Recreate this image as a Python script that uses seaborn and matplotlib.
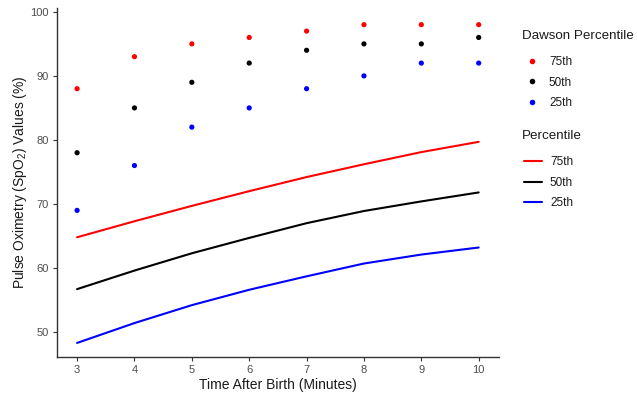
import matplotlib
matplotlib.use("Agg")
import matplotlib.pyplot as plt
from matplotlib.lines import Line2D
import numpy as np
import pandas as pd
import seaborn as sns

# Observed Dawson percentile points
minutes = [3, 4, 5, 6, 7, 8, 9, 10]
dawson_75 = [88, 93, 95, 96, 97, 98, 98, 98]
dawson_50 = [78, 85, 89, 92, 94, 95, 95, 96]
dawson_25 = [69, 76, 82, 85, 88, 90, 92, 92]

# Fitted percentile curves
curve_75 = [64.8, 67.3, 69.7, 72.0, 74.2, 76.2, 78.1, 79.7]
curve_50 = [56.7, 59.6, 62.3, 64.7, 67.0, 68.9, 70.4, 71.8]
curve_25 = [48.3, 51.4, 54.2, 56.6, 58.7, 60.7, 62.1, 63.2]

levels = ["75th", "50th", "25th"]
palette = {"75th": "#FF0000", "50th": "#000000", "25th": "#0000FF"}

dots = pd.DataFrame({
    "minute": minutes * 3,
    "spo2": dawson_75 + dawson_50 + dawson_25,
    "pct": [levels[0]] * 8 + [levels[1]] * 8 + [levels[2]] * 8,
})
curves = pd.DataFrame({
    "minute": minutes * 3,
    "spo2": curve_75 + curve_50 + curve_25,
    "pct": [levels[0]] * 8 + [levels[1]] * 8 + [levels[2]] * 8,
})

sns.set_theme(style="white")
plt.rcParams["font.family"] = ["Liberation Sans", "DejaVu Sans"]
plt.rcParams["mathtext.fontset"] = "custom"
plt.rcParams["mathtext.rm"] = "Liberation Sans"
plt.rcParams["mathtext.it"] = "Liberation Sans"

W, H = 637, 401
fig = plt.figure(figsize=(W / 100, H / 100), dpi=100)
ax = fig.add_axes([0.0895, 0.1097, 0.6935, 0.8703])

sns.lineplot(data=curves, x="minute", y="spo2", hue="pct", palette=palette,
             hue_order=levels, linewidth=1.5, legend=False, ax=ax)
sns.scatterplot(data=dots, x="minute", y="spo2", hue="pct", palette=palette,
                hue_order=levels, s=14, edgecolor="none", legend=False, ax=ax)

ax.set_xlim(2.65, 10.35)
ax.set_ylim(46.1, 100.6)
ax.set_xticks(minutes)
ax.set_yticks([50, 60, 70, 80, 90, 100])
ax.tick_params(axis="both", which="both", length=3, width=0.8, color="#333333",
               labelsize=8, labelcolor="#4D4D4D", pad=3, bottom=True, left=True)
for side in ["top", "right"]:
    ax.spines[side].set_visible(False)
for side in ["left", "bottom"]:
    ax.spines[side].set_color("#333333")
    ax.spines[side].set_linewidth(1.0)

ax.set_xlabel("Time After Birth (Minutes)", fontsize=10, color="#1a1a1a", labelpad=2)
ax.set_ylabel(r"Pulse Oximetry (SpO$_2$) Values (%)", fontsize=10, color="#1a1a1a", labelpad=1)

dot_handles = [Line2D([], [], marker="o", linestyle="none", markersize=4,
                      markerfacecolor=palette[l], markeredgecolor="none") for l in levels]
line_handles = [Line2D([], [], color=palette[l], linewidth=1.5) for l in levels]

legend_kw = dict(loc="upper left", frameon=False, fontsize=8.5, handlelength=1.5,
                 handletextpad=0.7, labelspacing=0.72, borderaxespad=0, borderpad=0)

fig.text(522 / W, 1 - 36 / H, "Dawson Percentile", fontsize=9.6, color="#1a1a1a",
         ha="left", va="center")
leg1 = fig.legend(dot_handles, levels, bbox_to_anchor=(523 / W, 1 - 56 / H), **legend_kw)

fig.text(522 / W, 1 - 136 / H, "Percentile", fontsize=9.6, color="#1a1a1a",
         ha="left", va="center")
leg2 = fig.legend(line_handles, levels, bbox_to_anchor=(524 / W, 1 - 156.5 / H), **legend_kw)

for lg in (leg1, leg2):
    for t in lg.get_texts():
        t.set_color("#1a1a1a")

fig.savefig("out.png", dpi=100)
